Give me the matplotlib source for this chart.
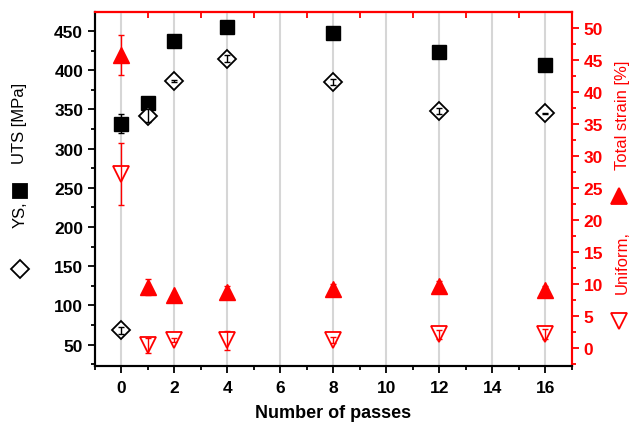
from matplotlib import pyplot as plt
from matplotlib.lines import Line2D
from matplotlib.ticker import MultipleLocator

passes = [0, 1, 2, 4, 8, 12, 16]

uts = [332, 358, 438, 455, 448, 423, 407]
uts_err = [12, 4, 3, 3, 3, 3, 3]
ys = [68, 342, 386, 415, 385, 348, 345]
ys_err = [4, 8, 1, 5, 4, 4, 1]

total_strain = [45.8, 9.5, 8.2, 8.7, 9.2, 9.6, 9.1]
total_err = [3.1, 1.2, 0.3, 1.0, 0.8, 0.8, 0.6]
uniform_strain = [27.2, 0.4, 1.2, 1.2, 1.2, 2.1, 2.1]
uniform_err = [4.8, 1.2, 0.3, 1.5, 0.5, 0.7, 0.8]

RED = '#ff0000'
W, H = 630, 431


def fig_xy(px, py):
    return px / W, 1 - py / H


def label_piece(fig, text, px, py, color='black'):
    x, y = fig_xy(px, py)
    fig.text(x, y, text, rotation=90, ha='center', va='center', fontsize=12, color=color)


def label_marker(fig, marker, px, py, ms, face, edge):
    x, y = fig_xy(px, py)
    fig.add_artist(Line2D([x], [y], marker=marker, ms=ms, mfc=face, mec=edge, mew=1.3,
                          linestyle='none', transform=fig.transFigure))


def plot_chart() -> None:
    plt.rcParams['font.family'] = ['Liberation Sans', 'DejaVu Sans']
    plt.rcParams['font.size'] = 12.5

    fig = plt.figure(figsize=(6.3, 4.31), dpi=100)
    ax = fig.add_axes([0.1508, 0.1492, 0.7567, 0.8199])
    ax2 = ax.twinx()

    # stress, left axis
    ax.plot(passes, uts, 's', ms=9.8, color='black', zorder=3)
    ax.errorbar(passes, uts, yerr=uts_err, fmt='none', ecolor='black',
                elinewidth=1, capsize=2.5, zorder=4)
    ax.plot(passes, ys, 'D', ms=9.3, mfc='white', mec='black', mew=1.3, zorder=3)
    ax.errorbar(passes, ys, yerr=ys_err, fmt='none', ecolor='black',
                elinewidth=1, capsize=2.5, zorder=4)

    # strain, right axis
    ax2.plot(passes, total_strain, '^', ms=11.5, color=RED, zorder=3)
    ax2.errorbar(passes, total_strain, yerr=total_err, fmt='none', ecolor=RED,
                 elinewidth=1, capsize=2.5, zorder=2)
    ax2.plot(passes, uniform_strain, 'v', ms=11.5, mfc='white', mec=RED, mew=1.3, zorder=3)
    ax2.errorbar(passes, uniform_strain, yerr=uniform_err, fmt='none', ecolor=RED,
                 elinewidth=1, capsize=2.5, zorder=4)

    ax.set_xlim(-1, 17)
    ax.set_ylim(23, 474)
    ax2.set_ylim(-2.8, 52.45)

    ax.xaxis.set_major_locator(MultipleLocator(2))
    ax.xaxis.set_minor_locator(MultipleLocator(1))
    ax.yaxis.set_major_locator(MultipleLocator(50))
    ax.yaxis.set_minor_locator(MultipleLocator(25))
    ax2.yaxis.set_major_locator(MultipleLocator(5))
    ax2.yaxis.set_minor_locator(MultipleLocator(2.5))
    ax.set_yticks(range(50, 451, 50))
    ax2.set_yticks(range(0, 51, 5))

    ax.xaxis.grid(True, which='major', color='#d6d6d6', lw=1.5)
    ax.set_axisbelow(True)

    ax.tick_params(axis='both', which='major', direction='out', length=5, width=1.3)
    ax.tick_params(axis='both', which='minor', direction='out', length=3, width=1.3)
    ax.tick_params(axis='x', pad=5)
    ax2.tick_params(axis='y', which='major', direction='out', length=5, width=1.3,
                    colors=RED)
    ax2.tick_params(axis='y', which='minor', direction='out', length=3, width=1.3,
                    colors=RED)
    for lbl in ax.get_xticklabels() + ax.get_yticklabels() + ax2.get_yticklabels():
        lbl.set_fontweight('bold')

    top = ax.secondary_xaxis('top')
    top.xaxis.set_major_locator(MultipleLocator(2))
    top.xaxis.set_minor_locator(MultipleLocator(1))
    top.tick_params(which='both', direction='in', length=4, width=1.3,
                    colors=RED, labeltop=False)
    top.spines['top'].set_color(RED)
    top.spines['top'].set_linewidth(1.5)

    for a in (ax, ax2):
        for s in a.spines.values():
            s.set_linewidth(1.5)
    ax2.spines['right'].set_color(RED)
    ax2.spines['top'].set_color(RED)
    ax.spines['top'].set_color(RED)
    ax.spines['right'].set_color(RED)
    ax2.spines['left'].set_color('black')
    ax2.spines['bottom'].set_color('black')

    ax.set_xlabel('Number of passes', fontweight='bold', fontsize=13, labelpad=7)

    # left axis title: upright symbols + rotated words
    label_marker(fig, 'D', 20, 270, 9.5, 'white', 'black')
    label_piece(fig, 'YS,', 20, 215)
    label_marker(fig, 's', 20, 192, 9.5, 'black', 'black')
    label_piece(fig, 'UTS [MPa]', 20, 123)

    # right axis title
    label_marker(fig, 'v', 619, 322, 12, 'white', RED)
    label_piece(fig, 'Uniform,', 622, 263, RED)
    label_marker(fig, '^', 619, 197, 12, RED, RED)
    label_piece(fig, 'Total strain [%]', 622, 115, RED)

    plt.savefig('out.png', dpi=100)


def main() -> None:
    plot_chart()


if __name__ == '__main__':
    main()
